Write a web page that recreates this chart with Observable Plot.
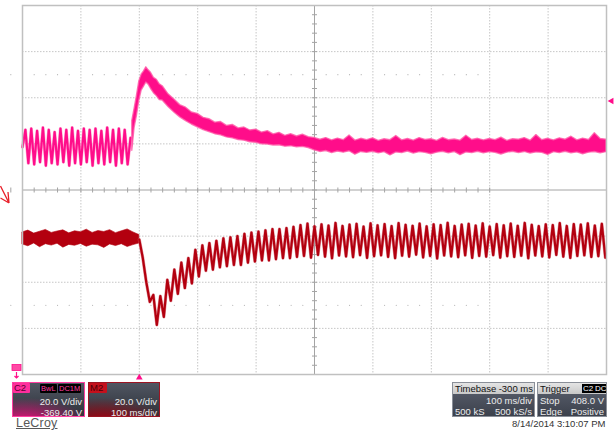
<!DOCTYPE html>
<html><head><meta charset="utf-8">
<script src="https://cdn.jsdelivr.net/npm/d3@7"></script>
<script src="https://cdn.jsdelivr.net/npm/@observablehq/plot@0.6"></script>
<style>
body{margin:0;background:#fff;font-family:"Liberation Sans",Arial,sans-serif;}
#wrap{position:relative;width:616px;height:430px;overflow:hidden;background:#fff;}
#wrap > svg{position:absolute;left:0;top:0;}
.box{position:absolute;top:382px;height:35px;box-sizing:border-box;font-size:9.5px;color:#ececec;line-height:11px;overflow:hidden;}
.row{position:absolute;left:2px;right:2px;height:11px;white-space:nowrap;}
.r{position:absolute;right:0;}
.l{position:absolute;left:0;}
.tag{position:absolute;top:1px;height:9px;line-height:9px;font-size:7.5px;padding:0 1px;border-radius:1px;white-space:nowrap;}
</style></head><body><div id="wrap"></div>
<script>
// ---------- data ----------
const c2OffsetV = 369.4;      // C2 offset (screen centre), V
const voltsPerDiv = 20;       // both traces
const msPerDiv = 100;
const centreTime = 300;       // -(timebase delay) : trigger at t = 0
const triggerLevelV = 408.0;

const gridTimes = [-200,-100,0,100,200,300,400,500,600,700,800];
const gridDivs = [-4,-3,-2,-1,0,1,2,3,4];

// C2 before trigger: ripple extremes every 5 ms starting at -200 ms
const c2PreStart = -200, c2PreStep = 5;
const c2PreV = [388,395.5,381,396,380.5,395,381.5,396.5,380,395.5,381,394.5,380.5,396,381.5,395.5,380,396.5,381,395,380.5,396,381.5,395.5,380,396,381,395,380.5,396.5,381.5,395.5,380,396,381,395.5,380.5,392];

// C2 after trigger: trace envelope (upper / lower), V
const c2PostT = [-12,-8,-4,0,4,8,12,16,20,25,30,35,40,50,60,70,80,90,100,110,120,130,140,150,160,170,180,190,200,210,220,230,240,250,260,270,280,290,300,310,320,330,340,350,360,370,380,390,400,410,420,430,440,450,460,470,480,490,500,510,520,530,540,550,560,570,580,590,600,610,620,630,640,650,660,670,680,690,700,710,720,730,740,750,760,770,780,790,800];
const c2PostHi = [399.4,404.7,410.3,416.5,419.4,420.8,422.6,421.3,420.2,418.0,417.2,415.2,414.4,410.9,408.6,406.2,405.1,403.0,402.4,400.7,400.1,398.6,398.9,397.2,397.6,396.1,396.5,395.2,395.6,394.3,394.9,393.5,394.2,392.9,393.6,392.6,393.4,392.3,392.0,391.2,391.9,390.9,391.7,391.0,393.0,390.8,391.6,391.0,391.8,390.7,391.4,391.0,392.8,390.9,391.5,390.8,391.9,391.1,391.4,390.7,392.0,391.0,391.3,390.8,392.9,391.1,391.6,390.9,391.5,391.0,392.1,390.7,391.4,391.2,391.9,390.8,393.2,391.0,391.6,390.9,391.8,391.2,392.5,390.9,391.7,391.1,394.0,391.5,391.2];
const c2PostLo = [386.4,396.5,401.6,408.1,412.5,414.2,416.0,415.1,413.3,411.4,410.1,408.4,408.2,405.4,403.0,400.9,399.3,397.8,396.6,395.4,394.5,393.6,393.1,392.2,391.8,391.1,390.8,390.1,389.9,389.2,389.1,388.7,388.8,388.2,388.4,387.9,388.1,387.6,386.6,385.9,386.3,385.4,386.1,385.6,386.2,384.7,385.9,385.5,386.0,385.3,385.8,384.4,385.7,385.4,386.1,385.2,385.8,385.5,384.9,385.6,386.0,385.3,385.9,384.5,385.7,385.4,386.0,385.3,385.8,385.5,384.8,385.6,386.0,385.4,385.9,385.2,385.7,385.5,384.6,385.8,385.4,386.0,385.3,385.7,384.9,385.6,385.9,385.3,385.8];

// M2 before trigger: trace envelope every 10 ms, V (relative to screen centre)
const m2PreStart = -200, m2PreStep = 10;
const m2PreHi = [-18.4,-17.6,-18.9,-18.1,-17.3,-18.6,-18.0,-17.5,-18.8,-17.9,-18.3,-17.2,-18.6,-17.8,-18.2,-17.4,-18.7,-17.9,-17.1,-18.4,-19.5];
const m2PreLo = [-23.6,-24.4,-23.2,-24.8,-23.5,-24.1,-23.3,-25.0,-23.8,-24.2,-23.4,-24.6,-23.7,-24.0,-25.1,-23.6,-24.3,-23.5,-24.7,-23.9,-23.2];

// M2 after trigger: ripple extremes every 6 ms from 0 ms, V
const m2PostStart = 0, m2PostStep = 6;
const m2PostV = [-21.5,-29.5,-40.0,-48.5,-45.5,-58.5,-46.0,-55.0,-39.0,-48.0,-34.5,-45.0,-31.5,-42.5,-29.5,-40.5,-26.0,-37.5,-24.0,-35.0,-23.0,-34.5,-22.0,-33.5,-21.0,-33.0,-20.5,-32.5,-20.0,-32.5,-19.0,-31.5,-18.5,-31.0,-18.0,-30.5,-17.5,-30.5,-17.0,-30.0,-17.0,-29.5,-16.5,-29.5,-16.0,-29.0,
-15.2,-28.6,-14.6,-29.3,-15.8,-28.1,-14.9,-28.9,-15.4,-29.6,-14.3,-28.4,-15.6,-28.8,-15.0,-29.1,-14.7,-28.2,-15.9,-29.4,-14.5,-28.7,-15.3,-28.3,-14.8,-29.0,-15.7,-29.5,-14.4,-28.5,-15.1,-28.9,-15.5,-28.0,-14.6,-29.2,-15.8,-28.6,-14.9,-29.7,-15.2,-28.4,-14.2,-28.8,-15.6,-29.1,-15.0,-28.3,-14.7,-29.4,-15.4,-28.6,-14.5,-28.9,-15.9,-28.2,-14.8,-29.3,-15.3,-28.7,-14.6,-29.0,-15.5,-28.5,-14.3,-29.6,-15.1,-28.4,-15.7,-28.8,-14.9,-29.2,-15.2,-28.1,-14.4,-28.9,-15.6,-29.4,-14.8,-28.6,-15.0,-28.3,-14.5,-29.0,-15.4,-28.7,-14.7,-29.3];

// ---------- build ----------
const PINK = "#ff0d8a", DARKRED = "#b3000f";
const c2Div = v => (v - c2OffsetV) / voltsPerDiv;
const m2Div = v => v / voltsPerDiv;

const c2Pre = c2PreV.map((v, i) => ({t: c2PreStart + i * c2PreStep, y: c2Div(v)}));
const c2Post = c2PostT.map((t, i) => ({t, hi: c2Div(c2PostHi[i]), lo: c2Div(c2PostLo[i])}));
const m2Pre = m2PreHi.map((v, i) => ({t: m2PreStart + i * m2PreStep, hi: m2Div(v), lo: m2Div(m2PreLo[i])}));
const m2Post = m2PostV.map((v, i) => ({t: m2PostStart + i * m2PostStep, y: m2Div(v)}));

const minorY = d3.range(-20, 21).map(k => k / 5);
const minorX = d3.range(-10, 41).map(k => -200 + k * msPerDiv / 5);
const dotRows = [];
for (const d of [-2.5, 2.5]) for (const t of minorX) if (t % msPerDiv !== 0) dotRows.push({t, d});

const hTick = {draw(ctx){ctx.moveTo(-2.5, 0); ctx.lineTo(2.5, 0);}};
const vTick = {draw(ctx){ctx.moveTo(0, -2.5); ctx.lineTo(0, 2.5);}};
const GRID = "#c6c6c6", AXIS = "#a4a4a4";

const chart = Plot.plot({
  width: 616, height: 430,
  marginLeft: 22, marginRight: 10, marginTop: 5, marginBottom: 56,
  x: {domain: [-200, 800], axis: null},
  y: {domain: [-4, 4], axis: null},
  style: {background: "transparent", overflow: "visible"},
  marks: [
    Plot.ruleX(gridTimes.filter(t => t !== centreTime), {stroke: GRID, strokeDasharray: "1.5,1.5"}),
    Plot.ruleY(gridDivs.filter(d => d !== 0), {stroke: GRID, strokeDasharray: "1.5,1.5"}),
    Plot.dot(dotRows, {x: "t", y: "d", r: 0.6, fill: "#b4b4b4", stroke: null}),
    Plot.ruleX([centreTime], {stroke: AXIS}),
    Plot.ruleY([0], {stroke: AXIS}),
    Plot.dot(minorY, {x: () => centreTime, y: d => d, symbol: hTick, stroke: AXIS, fill: "none", strokeWidth: 1}),
    Plot.dot(minorX, {x: d => d, y: () => 0, symbol: vTick, stroke: AXIS, fill: "none", strokeWidth: 1}),
    // M2 trace
    Plot.areaY(m2Pre, {x: "t", y1: "lo", y2: "hi", fill: DARKRED, stroke: DARKRED, strokeWidth: 1, strokeOpacity: 0.6}),
    Plot.line(m2Post, {x: "t", y: "y", stroke: "#d05060", strokeWidth: 3.2, strokeOpacity: 0.6}),
    Plot.line(m2Post, {x: "t", y: "y", stroke: DARKRED, strokeWidth: 2.2}),
    // C2 trace
    Plot.line(c2Pre, {x: "t", y: "y", stroke: "#ff6ab4", strokeWidth: 3.2, strokeOpacity: 0.6}),
    Plot.line(c2Pre, {x: "t", y: "y", stroke: PINK, strokeWidth: 2.2}),
    Plot.areaY(c2Post, {x: "t", y1: "lo", y2: "hi", fill: PINK, stroke: "#ff5aa8", strokeWidth: 1.4, strokeOpacity: 0.8}),
    Plot.frame({stroke: "#c0c0c0", strokeWidth: 1.5}),
    // trigger level and trigger time markers
    Plot.dot([triggerLevelV], {x: () => 800, y: v => c2Div(v), dx: 5, symbol: "triangle2", rotate: -90, r: 3.2, fill: PINK, stroke: null}),
    Plot.dot([0], {x: d => d, y: () => -4, dy: 3, symbol: "triangle2", r: 3.2, fill: PINK, stroke: null})
  ]
});
const wrap = document.getElementById("wrap");
wrap.appendChild(chart);

wrap.insertAdjacentHTML("beforeend", `
<svg style="position:absolute;left:0;top:182px" width="16" height="28">
  <path d="M0.5,4 L9,21 M0.5,16 L9,21 M8,10 L9,21" stroke="#e8202a" stroke-width="1.3" fill="none"/>
</svg>
<svg style="position:absolute;left:10px;top:364px" width="14" height="16">
  <rect x="2" y="0.5" width="9" height="6" fill="#ff4aa5" stroke="#ff0d8a" stroke-width="0.8"/>
  <path d="M6.5,8 L6.5,14 M4.5,12 L6.5,14 L8.5,12" stroke="#ff0d8a" stroke-width="1.2" fill="none"/>
</svg>
<div class="box" style="left:12px;width:73px;border:1px solid #ff3ea0;background:radial-gradient(ellipse 90% 70% at 15% 115%, #e8127c 0%, rgba(232,18,124,0.55) 45%, rgba(60,66,78,0) 100%), linear-gradient(#505662,#2e323a);">
  <div class="tag" style="left:0;top:0;height:10px;line-height:10px;width:15px;background:#ff2e9c;color:#5a0030;font-size:9.5px;">C2</div>
  <div class="tag" style="left:27px;background:#000;color:#ff3ea0;">BwL</div>
  <div class="tag" style="left:45px;background:#000;color:#ff3ea0;">DC1M</div>
  <div class="row" style="top:13px"><span class="r">20.0 V/div</span></div>
  <div class="row" style="top:24px"><span class="r">-369.40 V</span></div>
</div>
<div class="box" style="left:88px;width:72px;border:1px solid #9c1422;background:radial-gradient(ellipse 90% 70% at 20% 115%, #a8000e 0%, rgba(168,0,14,0.55) 45%, rgba(60,66,78,0) 100%), linear-gradient(#505662,#2e323a);">
  <div class="tag" style="left:0;top:0;height:10px;line-height:10px;width:16px;background:#c4101c;color:#4a0006;font-size:9.5px;">M2</div>
  <div class="row" style="top:13px"><span class="r">20.0 V/div</span></div>
  <div class="row" style="top:24px"><span class="r">100 ms/div</span></div>
</div>
<div style="position:absolute;left:16px;top:416px;font-size:12.5px;color:#585858;text-decoration:underline;letter-spacing:0.2px;">LeCroy</div>
<div class="box" style="left:452px;width:83px;border:1px solid #8a8f98;background:linear-gradient(#5c6270,#3c414c);">
  <div class="row" style="left:0;right:0;top:0;height:11px;background:linear-gradient(#e4e4e4,#c8c8c8);color:#111;"><span class="l" style="left:2px">Timebase</span><span class="r" style="right:1px">-300 ms</span></div>
  <div class="row" style="top:12px"><span class="r">100 ms/div</span></div>
  <div class="row" style="top:23px"><span class="l">500 kS</span><span class="r">500 kS/s</span></div>
</div>
<div class="box" style="left:537px;width:70px;border:1px solid #8a8f98;background:linear-gradient(#5c6270,#3c414c);">
  <div class="row" style="left:0;right:0;top:0;height:11px;background:linear-gradient(#e4e4e4,#c8c8c8);color:#111;"><span class="l" style="left:2px">Trigger</span>
    <span style="position:absolute;left:44px;top:1px;height:9px;line-height:9px;font-size:8px;background:#000;color:#fff;padding:0 1px;">C2</span>
    <span style="position:absolute;left:56px;top:1px;height:9px;line-height:9px;font-size:8px;background:#000;color:#fff;padding:0 1px;">DC</span></div>
  <div class="row" style="top:12px"><span class="l">Stop</span><span class="r">408.0 V</span></div>
  <div class="row" style="top:23px"><span class="l">Edge</span><span class="r">Positive</span></div>
</div>
<div style="position:absolute;left:512px;top:418px;font-size:9.5px;color:#333;">8/14/2014 3:10:07 PM</div>
`);
</script>
</body></html>
